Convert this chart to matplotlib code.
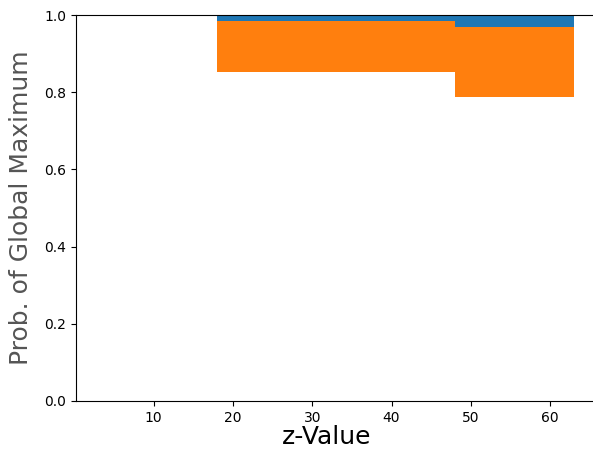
import numpy as np
import matplotlib.pyplot as plt

# step edges along z and the probability bands between them
z_edges = [18, 48, 63]
p_upper = [0.984, 0.968]   # bottom of the blue band (top is 1.0)
p_lower = [0.852, 0.787]   # bottom of the orange band

fig = plt.figure(figsize=(5.93, 4.59), dpi=100)
ax = fig.add_axes([0.128, 0.1264, 0.872, 0.8409])

y_top = p_upper + [p_upper[-1]]
y_mid = p_upper + [p_upper[-1]]
y_low = p_lower + [p_lower[-1]]

ax.fill_between(z_edges, y_top, 1.0, step='post', color='tab:blue', linewidth=0)
ax.fill_between(z_edges, y_low, y_mid, step='post', color='tab:orange', linewidth=0)

ax.set_xlim(0.2, 65.4)
ax.set_ylim(0, 1.0)
ax.set_xticks([10, 20, 30, 40, 50, 60])
ax.set_yticks([0.0, 0.2, 0.4, 0.6, 0.8, 1.0])
ax.spines['right'].set_visible(False)

ax.set_xlabel('z-Value', fontsize=18, labelpad=2)
ax.set_ylabel('Prob. of Global Maximum', fontsize=18, color='#555555', labelpad=8)
ax.xaxis.set_label_coords(0.485, -0.062)

fig.savefig('out.png', dpi=100)
